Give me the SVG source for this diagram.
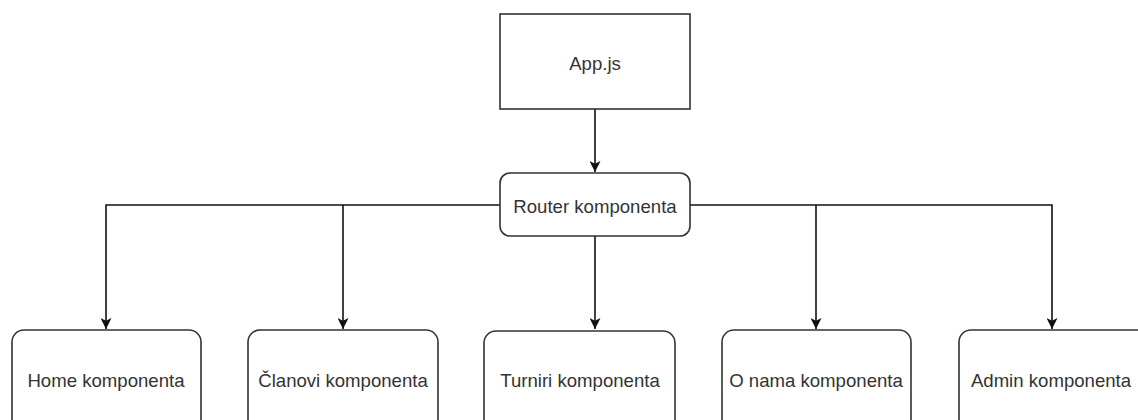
<svg xmlns="http://www.w3.org/2000/svg" width="1138" height="420" viewBox="0 0 1138 420">
<style>
.box{fill:#fff;stroke:#333;stroke-width:1.6}
.lbl{font-family:"Liberation Sans",Arial,sans-serif;font-size:18.6px;fill:#333;text-anchor:middle;dominant-baseline:central}
.edge{fill:none;stroke:#111;stroke-width:1.6}
</style>
<defs>
<marker id="arr" viewBox="0 0 10 10" refX="10" refY="5" markerWidth="11" markerHeight="11" markerUnits="userSpaceOnUse" orient="auto">
<path d="M0,0 L10,5 L0,10 L2.5,5 z" fill="#111"/>
</marker>
</defs>
<rect width="1138" height="420" fill="#fff"/>
<g id="connectors">
<path class="edge" d="M595,109 V172" marker-end="url(#arr)"/>
<path class="edge" d="M500,205 H106 V329" marker-end="url(#arr)"/>
<path class="edge" d="M343,205 V329" marker-end="url(#arr)"/>
<path class="edge" d="M595,236 V329" marker-end="url(#arr)"/>
<path class="edge" d="M690,205 H1052 V329" marker-end="url(#arr)"/>
<path class="edge" d="M816,205 V329" marker-end="url(#arr)"/>
</g>
<g id="app">
<rect class="box" x="500" y="14" width="190" height="95"/>
<text class="lbl" x="595" y="63">App.js</text>
</g>
<g id="router">
<rect class="box" x="500" y="173" width="190" height="63" rx="10"/>
<text class="lbl" x="595" y="206">Router komponenta</text>
</g>
<g id="home">
<rect class="box" x="12" y="330" width="189" height="110" rx="12"/>
<text class="lbl" x="106" y="380">Home komponenta</text>
</g>
<g id="clanovi">
<rect class="box" x="248" y="330" width="190" height="110" rx="12"/>
<text class="lbl" x="343" y="380">Članovi komponenta</text>
</g>
<g id="turniri">
<rect class="box" x="484" y="331" width="191" height="110" rx="12"/>
<text class="lbl" x="580" y="380">Turniri komponenta</text>
</g>
<g id="onama">
<rect class="box" x="722" y="330" width="189" height="110" rx="12"/>
<text class="lbl" x="816" y="380">O nama komponenta</text>
</g>
<g id="admin">
<rect class="box" x="959" y="330" width="190" height="110" rx="12"/>
<text class="lbl" x="1051" y="380">Admin komponenta</text>
</g>
</svg>
